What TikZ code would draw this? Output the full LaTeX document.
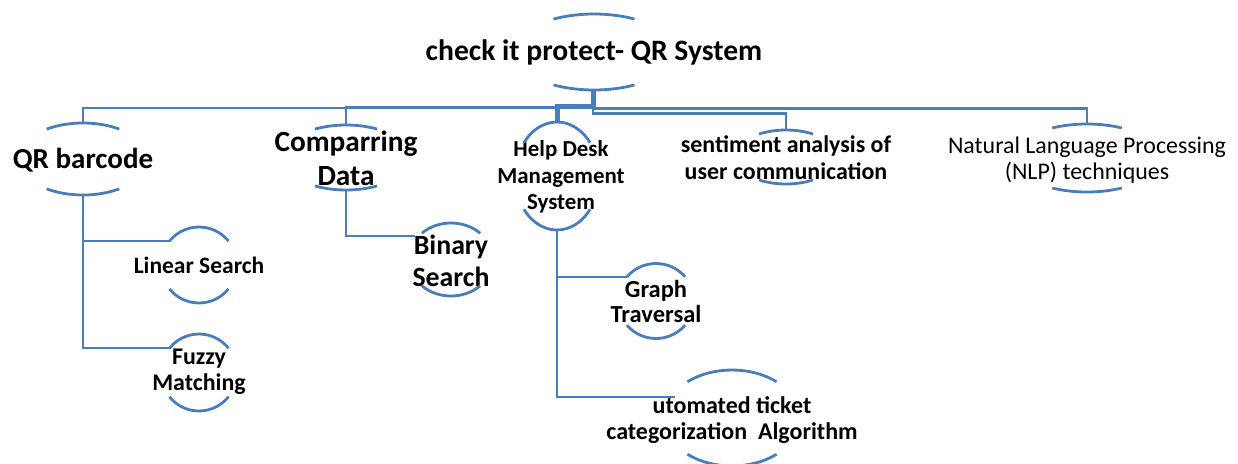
\documentclass[tikz,border=0pt]{standalone}
\usepackage{fontspec}
\setmainfont{Carlito}
\definecolor{lc}{HTML}{4A7EBB}
\newcommand{\ovalarcs}[4]{%
  \draw[conn] (#1) ++({270-#4}:#2 and #3) arc[start angle={270-#4}, end angle={270+#4}, x radius=#2, y radius=#3];
  \draw[conn] (#1) ++({90-#4}:#2 and #3) arc[start angle={90-#4}, end angle={90+#4}, x radius=#2, y radius=#3];}
\begin{document}
\begin{tikzpicture}[x=1pt,y=-1pt,
  conn/.style={draw=lc,line width=2.8pt},
  lbl/.style={align=center, inner sep=0pt, text=black},
]
\useasboundingbox (0,0) rectangle (1238,463);
% text nodes
\node[lbl,font=\fontsize{29.6}{32}\selectfont\bfseries] (root) at (594,52) {check it protect- QR System};
\node[lbl,font=\fontsize{29}{34}\selectfont\bfseries] (qr) at (83,160) {QR barcode};
\node[lbl,font=\fontsize{29.3}{34}\selectfont\bfseries] (cd) at (346,158) {Comparring\\Data};
\node[lbl,font=\fontsize{27.8}{32}\selectfont\bfseries] (bs) at (451,261) {Binary\\Search};
\node[lbl,font=\fontsize{22.9}{26.5}\selectfont\bfseries] (hd) at (561,177) {Help Desk\\Management\\System};
\node[lbl,font=\fontsize{23.9}{27}\selectfont\bfseries] (sa) at (786,158) {sentiment analysis of\\user communication};
\node[lbl,font=\fontsize{23.9}{26}\selectfont] (nlp) at (1087,160) {Natural Language Processing\\(NLP) techniques};
\node[lbl,font=\fontsize{23.5}{26}\selectfont\bfseries] (ls) at (199,265) {Linear Search};
\node[lbl,font=\fontsize{23.9}{26}\selectfont\bfseries] (fm) at (199,372) {Fuzzy\\Matching};
\node[lbl,font=\fontsize{24.5}{25}\selectfont\bfseries] (gt) at (656,301) {Graph\\Traversal};
\node[lbl,font=\fontsize{24}{26}\selectfont\bfseries] (at) at (732,420) {utomated ticket\\categorization\ \ Algorithm};
% oval arcs
\ovalarcs{594,52}{81}{38}{30}
\ovalarcs{83,159}{65}{36}{34}
\ovalarcs{346,157.5}{64}{32.5}{29}
\ovalarcs{451,259.5}{42}{36.5}{44}
\ovalarcs{557,176}{42}{54}{52}
\ovalarcs{786,157}{51}{27}{32}
\ovalarcs{1087,158}{74}{34}{28}
\ovalarcs{199,265}{38}{38}{51}
\ovalarcs{199,372.5}{38}{38.5}{51}
\ovalarcs{656,301}{38}{37.5}{50}
\ovalarcs{732,418}{68}{48}{41}
% connector ends
\coordinate (rootB) at (593,90);
\coordinate (qrT) at (83,123);
\coordinate (qrB) at (83,195);
\coordinate (cdT) at (346,125);
\coordinate (cdB) at (346,190);
\coordinate (hdT) at (557,122);
\coordinate (hdB) at (557,230);
\coordinate (saT) at (786,130);
\coordinate (nlpT) at (1087,124);
\coordinate (lsL) at (170,241);
\coordinate (fmL) at (170,348);
\coordinate (bsL) at (415,236);
\coordinate (gtL) at (627,277);
\coordinate (atL) at (675,397);
% connectors
\draw[conn] (rootB) -- ++(0,18) -| (qrT);
\draw[conn] (rootB) -- ++(0,17) -| (cdT);
\draw[conn,line width=5pt] (rootB) -- ++(0,16) -| (hdT);
\draw[conn,line width=2.2pt] (rootB) -- ++(0,18.5) -| (nlpT);
\draw[conn,line width=2.2pt] (rootB) -- ++(0,23.5) -| (saT);
\draw[conn] (qrB) |- (lsL);
\draw[conn] (qrB) |- (fmL);
\draw[conn] (cdB) |- (bsL);
\draw[conn] (hdB) |- (gtL);
\draw[conn] (hdB) |- (atL);
\end{tikzpicture}
\end{document}
